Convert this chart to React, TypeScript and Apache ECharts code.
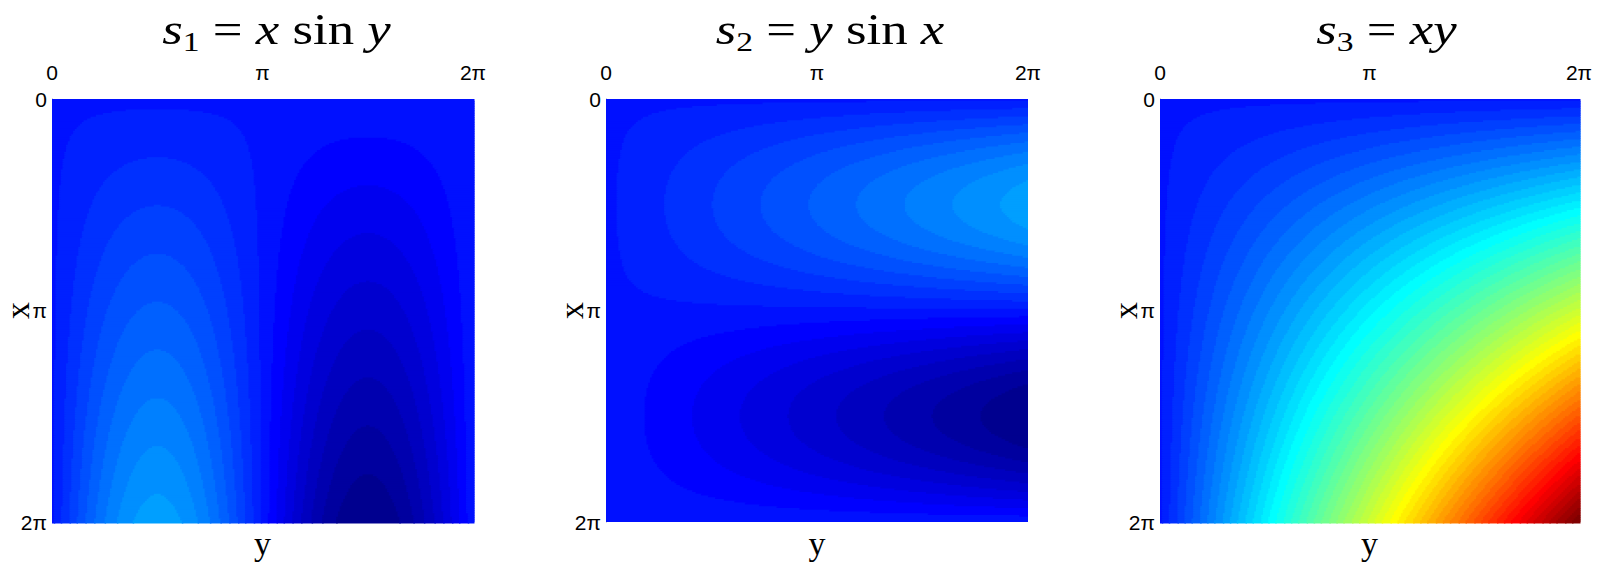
import React, { useEffect, useRef } from "react";
import * as echarts from "echarts";

// Surfaces over the square [0, 2π] × [0, 2π]; x runs down, y runs across.
const surfaceTitles = [
  "{i|s}{b|1}{r| = }{i|x}{r| sin }{i|y}",
  "{i|s}{b|2}{r| = }{i|y}{r| sin }{i|x}",
  "{i|s}{b|3}{r| = }{i|xy}",
];
const surfaces: ((x: number, y: number) => number)[] = [
  (x, y) => x * Math.sin(y),
  (x, y) => y * Math.sin(x),
  (x, y) => x * y,
];
// Axis ticks, in units of π
const tickLabels: Record<number, string> = { 0: "0", 1: "π", 2: "2π" };

// Shared filled-contour scale for all three panels
const VALUE_MIN = -2 * Math.PI;
const VALUE_MAX = 4 * Math.PI * Math.PI;
const LEVELS = 64;
const SAMPLES = 240;

// Panel placement
const GRID_TOP = 99;
const GRID_HEIGHT = 423;
const gridLefts = [52, 606, 1160];
const gridWidths = [421, 422, 419];
const titleShift = [14, 13, 17];

// 64-step jet colormap
function jetColors(m: number): string[] {
  const n = Math.ceil(m / 4);
  const u: number[] = [];
  for (let k = 1; k <= n; k++) u.push(k / n);
  for (let k = 0; k < n - 1; k++) u.push(1);
  for (let k = n; k >= 1; k--) u.push(k / n);
  const R = new Array(m).fill(0);
  const G = new Array(m).fill(0);
  const B = new Array(m).fill(0);
  const off = Math.ceil(n / 2) - (m % 4 === 1 ? 1 : 0);
  for (let p = 0; p < u.length; p++) {
    const g = off + p + 1;
    const r = g + n;
    const b = g - n;
    if (r >= 1 && r <= m) R[r - 1] = u[p];
    if (g >= 1 && g <= m) G[g - 1] = u[p];
    if (b >= 1 && b <= m) B[b - 1] = u[p];
  }
  const hex = (v: number) => Math.round(v * 255).toString(16).padStart(2, "0");
  return R.map((_, i) => "#" + hex(R[i]) + hex(G[i]) + hex(B[i]));
}
const JET = jetColors(LEVELS);

function band(v: number): number {
  const step = (VALUE_MAX - VALUE_MIN) / LEVELS;
  const b = Math.floor((v - VALUE_MIN) / step);
  return Math.max(0, Math.min(LEVELS - 1, b));
}

// Row-wise runs of equal contour band: [y0, y1, x0, x1, band] in units of π
function contourRuns(f: (x: number, y: number) => number): number[][] {
  const runs: number[][] = [];
  const h = (2 * Math.PI) / SAMPLES;
  for (let i = 0; i < SAMPLES; i++) {
    const x = (i + 0.5) * h;
    let start = 0;
    let cur = band(f(x, 0.5 * h));
    for (let j = 1; j <= SAMPLES; j++) {
      const b = j < SAMPLES ? band(f(x, (j + 0.5) * h)) : -1;
      if (b !== cur) {
        runs.push([(start / SAMPLES) * 2, (j / SAMPLES) * 2, (i / SAMPLES) * 2, ((i + 1) / SAMPLES) * 2, cur]);
        start = j;
        cur = b;
      }
    }
  }
  return runs;
}

const renderRun = (_params: any, api: any) => {
  const p0 = api.coord([api.value(0), api.value(2)]);
  const p1 = api.coord([api.value(1), api.value(3)]);
  return {
    type: "rect",
    shape: {
      x: Math.min(p0[0], p1[0]),
      y: Math.min(p0[1], p1[1]),
      width: Math.abs(p1[0] - p0[0]) + 1.5,
      height: Math.abs(p1[1] - p0[1]) + 1.5,
    },
    style: { fill: JET[api.value(4)] },
  };
};

const titleRich = {
  i: { fontFamily: "Liberation Serif", fontStyle: "italic", fontSize: 44, lineHeight: 50, color: "#000" },
  r: { fontFamily: "Liberation Serif", fontSize: 44, lineHeight: 50, color: "#000" },
  b: { fontFamily: "Liberation Serif", fontSize: 28, lineHeight: 28, padding: [22, 0, 0, 0], color: "#000" },
};

export default function App() {
  const ref = useRef<HTMLDivElement>(null);
  useEffect(() => {
    if (!ref.current) return;
    const chart = echarts.init(ref.current, null, { renderer: "svg" });
    const grids: any[] = [];
    const xAxes: any[] = [];
    const yAxes: any[] = [];
    const series: any[] = [];
    const graphics: any[] = [];
    const labelFont = { fontFamily: "Liberation Sans", fontSize: 21, color: "#000" };
    surfaces.forEach((f, k) => {
      grids.push({
        left: gridLefts[k], top: GRID_TOP, width: gridWidths[k], height: GRID_HEIGHT,
        outerBoundsMode: "none", containLabel: false,
      });
      xAxes.push({
        gridIndex: k, type: "value", min: 0, max: 2, interval: 1, position: "top",
        axisLine: { show: false }, axisTick: { show: false }, splitLine: { show: false },
        axisLabel: { ...labelFont, margin: 16, formatter: (v: number) => tickLabels[v] ?? "" },
      });
      xAxes.push({
        gridIndex: k, type: "value", min: 0, max: 2, position: "bottom",
        axisLine: { show: false }, axisTick: { show: false }, splitLine: { show: false },
        axisLabel: { show: false },
        name: "y", nameLocation: "middle", nameGap: 4, nameMoveOverlap: false,
        nameTextStyle: { fontFamily: "Liberation Serif", fontSize: 34, color: "#000" },
      });
      yAxes.push({
        gridIndex: k, type: "value", min: 0, max: 2, interval: 1, inverse: true,
        axisLine: { show: true, lineStyle: { color: "#a0a0a0", width: 1 } },
        axisTick: { show: false }, splitLine: { show: false },
        axisLabel: { ...labelFont, margin: 5, formatter: (v: number) => tickLabels[v] ?? "" },
        name: "x", nameLocation: "middle", nameRotate: 90, nameGap: 18, nameMoveOverlap: false,
        nameTextStyle: { fontFamily: "Liberation Serif", fontSize: 34, color: "#000" },
      });
      series.push({
        type: "custom", xAxisIndex: 2 * k, yAxisIndex: k, clip: true,
        renderItem: renderRun, encode: { x: [0, 1], y: [2, 3] },
        data: contourRuns(f), silent: true,
      });
      graphics.push({
        type: "text",
        x: gridLefts[k] + gridWidths[k] / 2 + titleShift[k],
        y: 30,
        scaleX: 1.2,
        style: {
          text: surfaceTitles[k], rich: titleRich,
          align: "center", verticalAlign: "middle",
          textAlign: "center", textVerticalAlign: "middle",
        },
      });
    });
    chart.setOption({
      animation: false,
      backgroundColor: "#ffffff",
      grid: grids,
      xAxis: xAxes,
      yAxis: yAxes,
      series,
      graphic: graphics,
    });
    return () => chart.dispose();
  }, []);
  return (
    <div
      ref={ref}
      style={{ position: "fixed", left: 0, top: 0, width: 1605, height: 564 }}
    />
  );
}
